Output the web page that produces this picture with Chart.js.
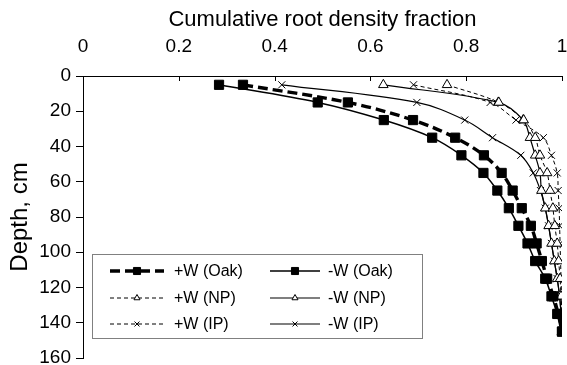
<!DOCTYPE html>
<html>
<head>
<meta charset="utf-8">
<script src="https://cdn.jsdelivr.net/npm/chart.js@4.4.0/dist/chart.umd.min.js"></script>
<style>
  html, body { margin: 0; padding: 0; background: #fff; }
  #wrap { width: 567px; height: 365px; }
</style>
</head>
<body>
<div id="wrap"><canvas id="chart" width="567" height="365"></canvas></div>
<script>
// profundidades (cm) y fracciones acumuladas
const depths = [5, 15, 25, 35, 45, 55, 65, 75, 85, 95, 105, 115, 125, 135, 145];

const plusOak  = [0.334, 0.553, 0.689, 0.777, 0.837, 0.874, 0.897, 0.916, 0.935, 0.947, 0.958, 0.969, 0.982, 0.992, 1.0];
const minusOak = [0.284, 0.49, 0.628, 0.729, 0.79, 0.836, 0.865, 0.889, 0.909, 0.928, 0.944, 0.965, 0.978, 0.99, 1.0];
const plusNP   = [0.76, 0.868, 0.92, 0.944, 0.954, 0.969, 0.975, 0.981, 0.985, 0.99, 0.993, 0.996, 0.998, 1.0, 1.0];
const minusNP  = [0.627, 0.867, 0.919, 0.933, 0.944, 0.954, 0.957, 0.965, 0.972, 0.978, 0.984, 0.99, 0.995, 0.998, 1.0];
const plusIP   = [0.69, 0.85, 0.904, 0.961, 0.978, 0.99, 0.992, 0.994, 0.995, 0.996, 0.997, 0.998, 0.999, 1.0, 1.0];
const minusIP  = [0.415, 0.697, 0.797, 0.855, 0.914, 0.94, 0.955, 0.965, 0.972, 0.978, 0.984, 0.99, 0.995, 0.998, 1.0];

const seriesLabels = ['+W (Oak)', '-W (Oak)', '+W (NP)', '-W (NP)', '+W (IP)', '-W (IP)'];
const xTicks = [0, 0.2, 0.4, 0.6, 0.8, 1];
const yTicks = [0, 20, 40, 60, 80, 100, 120, 140, 160];

const FONT = '"Liberation Sans", Arial, sans-serif';

function toPoints(values) {
    return values.map((v, i) => ({ x: v, y: depths[i] }));
}

function makeDataset(label, values, style) {
    return Object.assign({
        label: label,
        data: toPoints(values),
        borderColor: '#000',
        pointBorderColor: '#000',
        tension: 0.35,
        fill: false
    }, style);
}

const datasets = [
    makeDataset(seriesLabels[0], plusOak,  { borderWidth: 3.4, borderDash: [10, 5], pointStyle: 'rect', pointRadius: 6.5, pointBackgroundColor: '#000', pointBorderWidth: 1 }),
    makeDataset(seriesLabels[1], minusOak, { borderWidth: 1.5, pointStyle: 'rect', pointRadius: 6.5, pointBackgroundColor: '#000', pointBorderWidth: 1 }),
    makeDataset(seriesLabels[2], plusNP,   { borderWidth: 1, borderDash: [4, 3], pointStyle: 'triangle', pointRadius: 5.5, pointBackgroundColor: '#fff', pointBorderWidth: 1 }),
    makeDataset(seriesLabels[3], minusNP,  { borderWidth: 1.2, pointStyle: 'triangle', pointRadius: 5.5, pointBackgroundColor: '#fff', pointBorderWidth: 1 }),
    makeDataset(seriesLabels[4], plusIP,   { borderWidth: 1, borderDash: [4, 3], pointStyle: 'crossRot', pointRadius: 5, pointBackgroundColor: '#fff', pointBorderWidth: 1 }),
    makeDataset(seriesLabels[5], minusIP,  { borderWidth: 1.2, pointStyle: 'crossRot', pointRadius: 5, pointBackgroundColor: '#fff', pointBorderWidth: 1 })
];

// marcas del eje superior hacia dentro del área
const innerTicks = {
    id: 'innerTicks',
    afterDraw(chart) {
        const ctx = chart.ctx;
        const xs = chart.scales.x;
        const top = chart.chartArea.top;
        ctx.save();
        ctx.strokeStyle = '#000';
        ctx.lineWidth = 1;
        xTicks.forEach(t => {
            const px = Math.round(xs.getPixelForValue(t)) + 0.5;
            ctx.beginPath();
            ctx.moveTo(px, top);
            ctx.lineTo(px, top + 5);
            ctx.stroke();
        });
        ctx.restore();
    }
};

// leyenda en recuadro dentro del gráfico
const boxLegend = {
    id: 'boxLegend',
    afterDraw(chart) {
        const ctx = chart.ctx;
        const box = { x: 92.5, y: 254.5, w: 330, h: 84 };
        const rows = [271, 298, 324];
        const cols = [{ x0: 110, x1: 164, tx: 174 }, { x0: 270, x1: 320, tx: 328 }];
        ctx.save();
        ctx.fillStyle = '#fff';
        ctx.fillRect(box.x, box.y, box.w, box.h);
        ctx.strokeStyle = '#808080';
        ctx.lineWidth = 1;
        ctx.strokeRect(box.x, box.y, box.w, box.h);
        chart.data.datasets.forEach((ds, i) => {
            const c = cols[i % 2];
            const y = rows[Math.floor(i / 2)];
            ctx.strokeStyle = '#000';
            ctx.lineWidth = ds.borderWidth;
            ctx.setLineDash(ds.borderDash || []);
            ctx.beginPath();
            ctx.moveTo(c.x0, y);
            ctx.lineTo(c.x1, y);
            ctx.stroke();
            ctx.setLineDash([]);
            ctx.fillStyle = ds.pointBackgroundColor;
            ctx.lineWidth = 1;
            Chart.helpers.drawPoint(ctx, {
                pointStyle: ds.pointStyle,
                radius: ds.pointStyle === 'rect' ? 5 : 3.5,
                borderWidth: 1,
                rotation: 0
            }, (c.x0 + c.x1) / 2, y);
            ctx.fillStyle = '#000';
            ctx.font = '16px ' + FONT;
            ctx.textBaseline = 'middle';
            ctx.fillText(ds.label, c.tx, y + 1);
        });
        ctx.restore();
    }
};

new Chart(document.getElementById('chart').getContext('2d'), {
    type: 'line',
    data: { datasets: datasets },
    options: {
        responsive: false,
        animation: false,
        layout: { padding: 0, autoPadding: false },
        plugins: {
            legend: { display: false },
            tooltip: { enabled: false }
        },
        scales: {
            x: {
                type: 'linear',
                position: 'top',
                min: 0,
                max: 1,
                afterBuildTicks: (scale) => { scale.ticks = xTicks.map(v => ({ value: v })); },
                afterFit: (scale) => {
                    scale.height = 76;
                    scale.paddingLeft = 0;
                    scale.paddingRight = 5;
                },
                grid: { display: false, drawTicks: false },
                border: { display: true, color: '#000', width: 1 },
                ticks: {
                    color: '#000',
                    padding: 18,
                    maxRotation: 0,
                    font: { family: FONT, size: 19 },
                    callback: (v) => String(v)
                },
                title: {
                    display: true,
                    text: 'Cumulative root density fraction',
                    color: '#000',
                    font: { family: FONT, size: 22 },
                    padding: { top: 7, bottom: 4 }
                }
            },
            y: {
                type: 'linear',
                reverse: true,
                min: 0,
                max: 160,
                afterBuildTicks: (scale) => { scale.ticks = yTicks.map(v => ({ value: v })); },
                afterFit: (scale) => {
                    scale.width = 83;
                    scale.paddingTop = 0;
                    scale.paddingBottom = 7;
                },
                grid: { display: true, drawOnChartArea: false, drawTicks: true, tickLength: 7, color: '#000' },
                border: { display: true, color: '#000', width: 1 },
                ticks: {
                    color: '#000',
                    padding: 5,
                    font: { family: FONT, size: 19 }
                },
                title: {
                    display: true,
                    text: 'Depth, cm',
                    color: '#000',
                    font: { family: FONT, size: 24 },
                    padding: { top: 6, bottom: 2 }
                }
            }
        }
    },
    plugins: [innerTicks, boxLegend]
});
</script>
</body>
</html>
